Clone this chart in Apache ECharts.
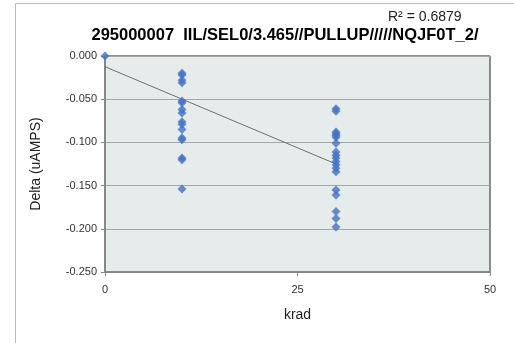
<!DOCTYPE html>
<html><head><meta charset="utf-8">
<script src="https://cdn.jsdelivr.net/npm/echarts@6/dist/echarts.min.js"></script>
<style>html,body{margin:0;padding:0;background:#fff}#c{width:514px;height:343px}</style>
</head><body><div id="c"></div>
<script>
const titleText = '295000007  IIL/SEL0/3.465//PULLUP/////NQJF0T_2/';
const r2Text = 'R² = 0.6879';
const xTicks = [0, 25, 50];
const yTicks = [0, -0.05, -0.1, -0.15, -0.2, -0.25];
const krad = [0,
  10,10,10,10,10,10,10,10,10,10,10,10,10,10,10,10,
  30,30,30,30,30,30,30,30,30,30,30,30,30,30,30,30,30,30,30];
const delta = [0,
  -0.020,-0.022,-0.028,-0.031,-0.052,-0.054,-0.062,-0.066,-0.076,-0.079,-0.085,-0.095,-0.097,-0.118,-0.120,-0.154,
  -0.061,-0.064,-0.088,-0.090,-0.092,-0.094,-0.101,-0.111,-0.115,-0.118,-0.122,-0.126,-0.130,-0.134,-0.155,-0.161,-0.180,-0.188,-0.198];
const trendX = [0, 30];
const trendY = [-0.0124, -0.125];

const font = 'Liberation Sans, Arial, sans-serif';
const chart = echarts.init(document.getElementById('c'));
chart.setOption({
  animation: false,
  backgroundColor: '#fff',
  title: {
    text: titleText, left: 280, top: 22, textAlign: 'center',
    textStyle: {fontFamily: font, fontWeight: 'bold', fontSize: 16.5, color: '#000'}
  },
  graphic: [
    {type: 'rect', left: 13, top: 1, shape: {width: 520, height: 340}, style: {fill: null, stroke: '#bdbdbd', lineWidth: 1}, z: -1},
    {type: 'text', left: 388, top: 10, style: {text: r2Text, font: '14px ' + font, fill: '#222'}}
  ],
  grid: {left: 105, right: 24, top: 56, bottom: 71, show: true, backgroundColor: '#e6ebeb', borderColor: '#222', borderWidth: 1},
  xAxis: {
    type: 'value', min: 0, max: 50, interval: 25,
    name: 'krad', nameLocation: 'middle', nameGap: 36,
    nameTextStyle: {fontFamily: font, fontSize: 14, color: '#222'},
    axisLine: {show: true, onZero: false, lineStyle: {color: '#888', width: 2}},
    axisTick: {show: true, length: 4, lineStyle: {color: '#888'}},
    axisLabel: {fontFamily: font, fontSize: 11, color: '#333', margin: 12},
    splitLine: {show: false}
  },
  yAxis: {
    type: 'value', min: -0.25, max: 0, interval: 0.05,
    name: 'Delta (uAMPS)', nameLocation: 'middle', nameGap: 62,
    nameTextStyle: {fontFamily: font, fontSize: 14, color: '#222'},
    axisLine: {show: true, onZero: false, lineStyle: {color: '#888', width: 2}},
    axisTick: {show: true, length: 4, lineStyle: {color: '#888'}},
    axisLabel: {fontFamily: font, fontSize: 11, color: '#333', margin: 8, formatter: v => v.toFixed(3)},
    splitLine: {show: true, lineStyle: {color: '#a6a6a6', width: 1}}
  },
  series: [
    {type: 'scatter', data: krad.map((x, i) => [x, delta[i]]), symbol: 'diamond', symbolSize: 9,
     itemStyle: {color: '#4472c4'}, z: 3},
    {type: 'line', data: trendX.map((x, i) => [x, trendY[i]]), symbol: 'none',
     lineStyle: {color: '#707070', width: 1}, z: 2}
  ]
});
</script></body></html>
